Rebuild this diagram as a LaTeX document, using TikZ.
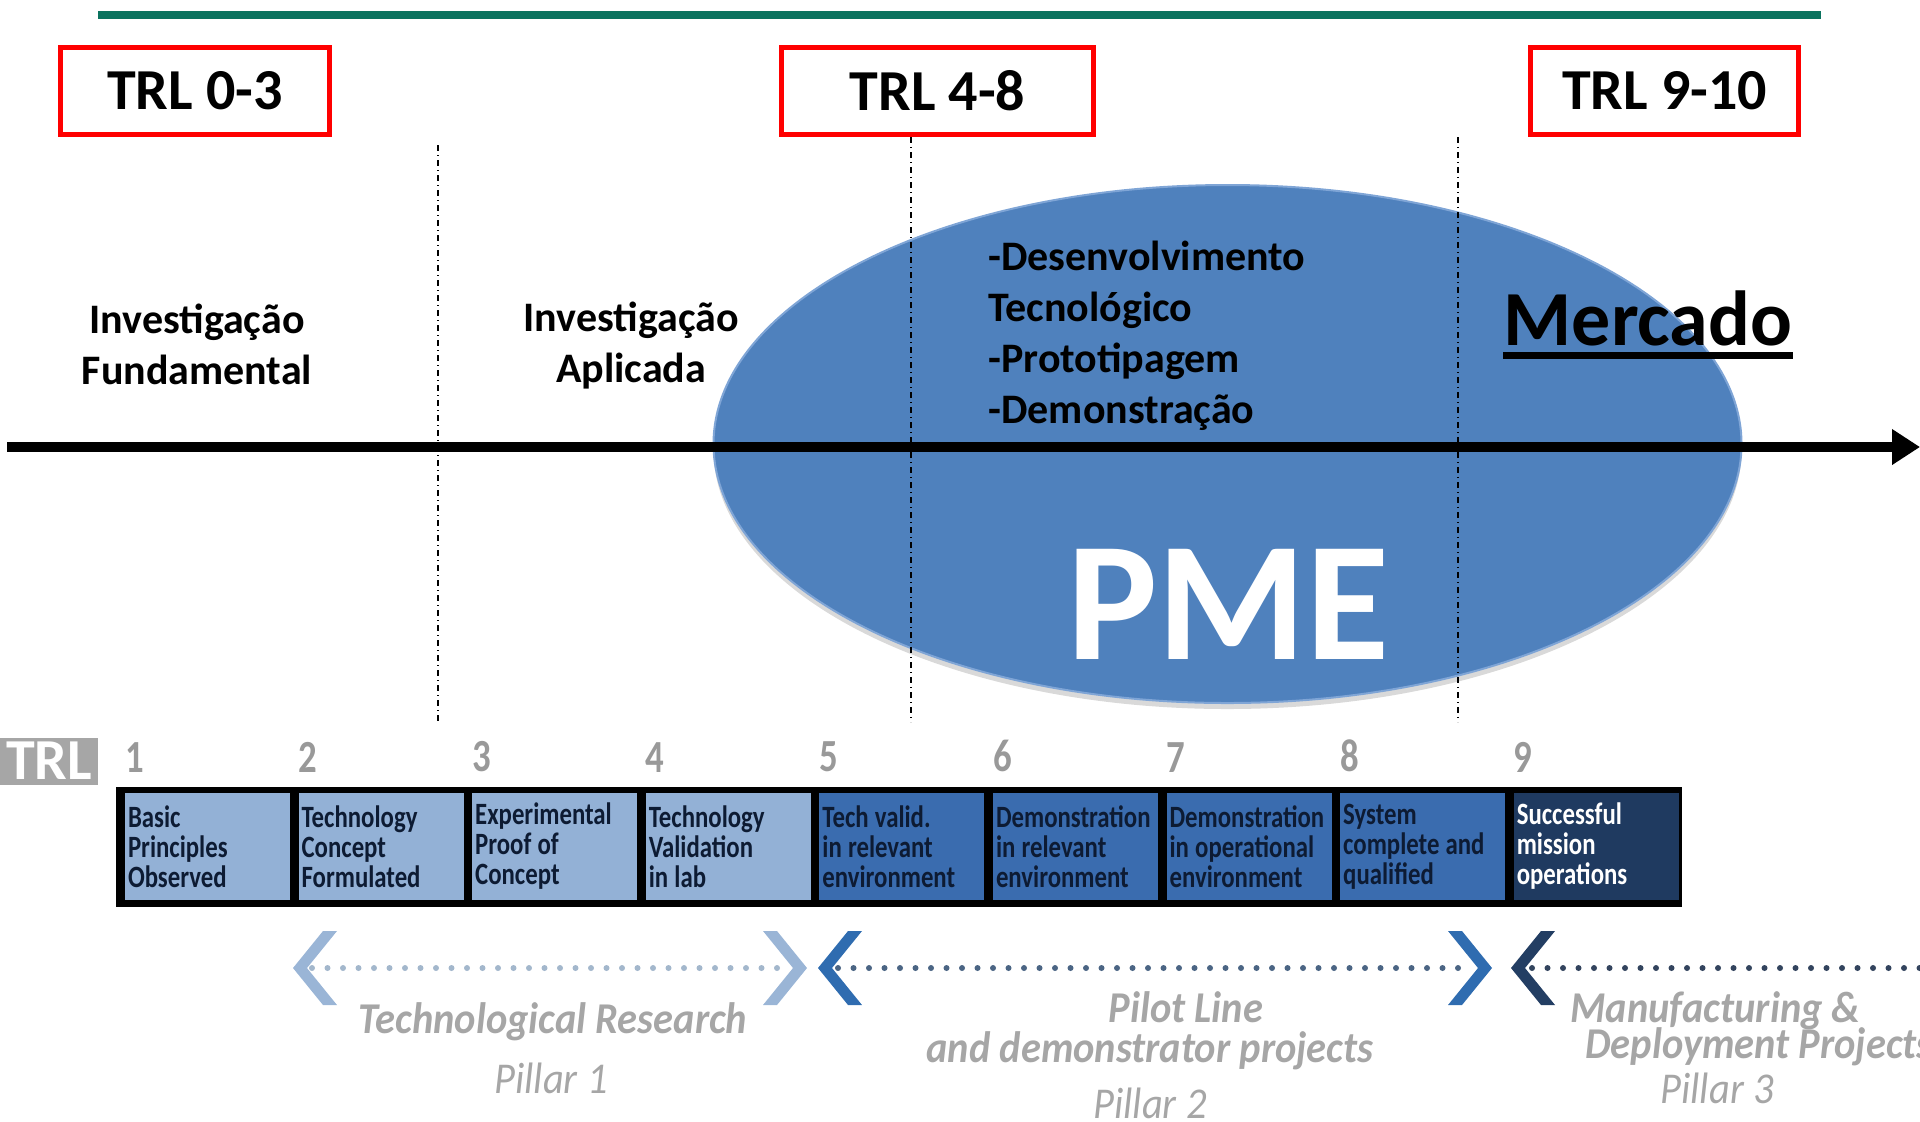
\documentclass[tikz,border=0pt]{standalone}
\usepackage{fontspec}
\setmainfont{Carlito}
\newfontfamily\narrowfont[FakeStretch=0.8]{Carlito}
\newfontfamily\pillarfont[FakeStretch=0.92]{Carlito}
\usetikzlibrary{arrows.meta,positioning,shapes.geometric,shadows}

\definecolor{trlgreen}{HTML}{0B735F}
\definecolor{pmeblue}{HTML}{4F81BD}
\definecolor{pmeedge}{HTML}{7FA5D6}
\definecolor{celllight}{HTML}{93B1D6}
\definecolor{cellmid}{HTML}{3A6CAF}
\definecolor{celldark}{HTML}{1F3A60}
\definecolor{celltext}{HTML}{0D1B33}
\definecolor{pillargray}{HTML}{A6A6A6}
\definecolor{chevlight}{HTML}{9AB5D6}
\definecolor{chevmid}{HTML}{2F6CB0}
\definecolor{chevdark}{HTML}{233E63}
\definecolor{dotlight}{HTML}{A3B7CC}
\definecolor{dotmid}{HTML}{4B6584}
\definecolor{dotdark}{HTML}{33445E}

\begin{document}
\begin{tikzpicture}[x=0.5pt, y=-0.5pt,
    trlbox/.style={draw=red, line width=2.5pt, minimum height=43.5pt, inner sep=0pt, font=\bfseries\fontsize{29}{34}\selectfont},
    phase/.style={font=\bfseries\fontsize{21}{25.5}\selectfont, align=center, inner sep=0pt},
    divider/.style={line width=0.75pt, dash pattern=on 3pt off 2pt on 0.5pt off 2pt},
    cell/.style={minimum width=82.5pt, minimum height=53.5pt, text width=79.5pt, inner xsep=1.5pt, inner ysep=0pt, font=\narrowfont\bfseries\fontsize{15.5}{15}\selectfont, execute at begin node={\spaceskip=0.2em\relax}, text=celltext},
    digit/.style={inner sep=0pt, text=black!40, font=\narrowfont\bfseries\fontsize{23}{23}\selectfont},
    dotrow/.style={line width=3pt, line cap=round, dash pattern=on 0pt off 7.75pt},
    pillar/.style={anchor=base, inner sep=0pt, text=pillargray, font=\pillarfont\bfseries\itshape\fontsize{22}{26}\selectfont},
    pillarno/.style={pillar, font=\pillarfont\itshape\fontsize{22}{26}\selectfont},
    lchev/.pic={\fill (0,0) -- (30,-37) -- (44,-37) -- (14,0) -- (44,37) -- (30,37) -- cycle;},
    rchev/.pic={\fill (0,0) -- (-30,-37) -- (-44,-37) -- (-14,0) -- (-44,37) -- (-30,37) -- cycle;}]
  \useasboundingbox (0,0) rectangle (1920,1121);
  \clip (0,0) rectangle (1920,1121);

  % top rule and TRL ranges
  \draw[trlgreen, line width=4pt] (98,15) -- (1821,15);
  \node[trlbox, minimum width=134.5pt] (trl03) at (195,91) {TRL 0-3};
  \node[trlbox, minimum width=156pt] (trl48) at (937.5,91) {TRL 4-8};
  \node[trlbox, minimum width=134pt] (trl910) at (1664.5,91) {TRL 9-10};

  % PME bubble
  \node[ellipse, fill=pmeblue, draw=pmeedge, line width=1pt, minimum width=514pt, minimum height=259pt,
        drop shadow={shadow xshift=0pt, shadow yshift=-3pt, opacity=0.3}] (pmebubble) at (1227.5,444) {};

  % dividers
  \draw[divider] (438,145) -- (438,722);
  \draw[divider] (911,137) -- (911,722);
  \draw[divider] (1458,137) -- (1458,722);

  % main axis
  \coordinate (axisstart) at (7,447);
  \coordinate (axisend) at (1920,447);
  \draw[line width=5pt, -{Triangle[length=14pt,width=17pt]}] (axisstart) -- (axisend);

  % phases
  \node[phase] (invfund) at (197,344) {Investigação\\Fundamental};
  \node[phase] (invapl) at (631,346) {Investigação\\Aplicada};
  \node[phase, anchor=west, align=left] (pmeacts) at (988,336) {-Desenvolvimento\\Tecnológico\\-Prototipagem\\-Demonstração};
  \node[anchor=base, inner sep=0pt, font=\bfseries\fontsize{39}{44}\selectfont] (mercado) at (1648,345) {Mercado};
  \draw[line width=3.5pt] ([yshift=-5pt]mercado.base west) -- ([yshift=-5pt]mercado.base east);
  \node[anchor=base, inner sep=0pt, text=white, font=\bfseries\fontsize{85}{90}\selectfont] (pmetext) at (1228,659) {PME};

  % TRL scale
  \node[fill=black!35, text=white, minimum width=49pt, minimum height=23.5pt, inner sep=0pt, font=\bfseries\fontsize{29}{30}\selectfont] (trllabel) at (49,761) {TRL};
  \node[fill=black, minimum width=783pt, minimum height=60pt, inner sep=0pt] (bar) at (899,847) {};
  \node[cell, fill=celllight] (c1) at (207.5,846.5) {Basic\\Principles\\Observed};
  \node[cell, fill=celllight, right=3.9pt of c1] (c2) {Technology\\Concept\\Formulated};
  \node[cell, fill=celllight, right=3.9pt of c2] (c3) {Experimental\\Proof of\\Concept};
  \node[cell, fill=celllight, right=3.9pt of c3] (c4) {Technology\\Validation\\in lab};
  \node[cell, fill=cellmid, right=3.9pt of c4] (c5) {Tech valid.\\in relevant\\environment};
  \node[cell, fill=cellmid, right=3.9pt of c5] (c6) {Demonstration\\in relevant\\environment};
  \node[cell, fill=cellmid, right=3.9pt of c6] (c7) {Demonstration\\in operational\\environment};
  \node[cell, fill=cellmid, right=3.9pt of c7] (c8) {System\\complete and\\qualified};
  \node[cell, fill=celldark, text=white, right=3.9pt of c8] (c9) {Successful\\mission\\operations};
  \node[digit, above=10pt of c1.north west, anchor=south west] (n1) {1};
  \node[digit, above=10pt of c2.north west, anchor=south west] (n2) {2};
  \node[digit, above=10pt of c3.north west, anchor=south west] (n3) {3};
  \node[digit, above=10pt of c4.north west, anchor=south west] (n4) {4};
  \node[digit, above=10pt of c5.north west, anchor=south west] (n5) {5};
  \node[digit, above=10pt of c6.north west, anchor=south west] (n6) {6};
  \node[digit, above=10pt of c7.north west, anchor=south west] (n7) {7};
  \node[digit, above=10pt of c8.north west, anchor=south west] (n8) {8};
  \node[digit, above=10pt of c9.north west, anchor=south west] (n9) {9};

  % pillars
  \pic[chevlight] at (293,968) {lchev};
  \pic[chevlight] at (807,968) {rchev};
  \pic[chevmid] at (818,968) {lchev};
  \pic[chevmid] at (1492,968) {rchev};
  \pic[chevdark] at (1511,968) {lchev};
  \coordinate (p1start) at (312,968);
  \coordinate (p1end) at (785,968);
  \coordinate (p2start) at (838,968);
  \coordinate (p2end) at (1470,968);
  \coordinate (p3start) at (1532,968);
  \coordinate (p3end) at (1930,968);
  \draw[dotrow, dotlight] (p1start) -- (p1end);
  \draw[dotrow, dotmid] (p2start) -- (p2end);
  \draw[dotrow, dotdark] (p3start) -- (p3end);
  \node[pillar] (techres) at (553,1033) {Technological Research};
  \node[pillarno] (pillar1) at (551,1093) {Pillar 1};
  \node[pillar] (pilot) at (1186,1022) {Pilot Line};
  \node[pillar] (demoproj) at (1150,1062) {and demonstrator projects};
  \node[pillarno] (pillar2) at (1150,1118) {Pillar 2};
  \node[pillar, anchor=base west] (manuf) at (1570,1022) {Manufacturing \&};
  \node[pillar, anchor=base west] (deploy) at (1585,1058) {Deployment Projects};
  \node[pillarno] (pillar3) at (1717,1103) {Pillar 3};
\end{tikzpicture}
\end{document}
